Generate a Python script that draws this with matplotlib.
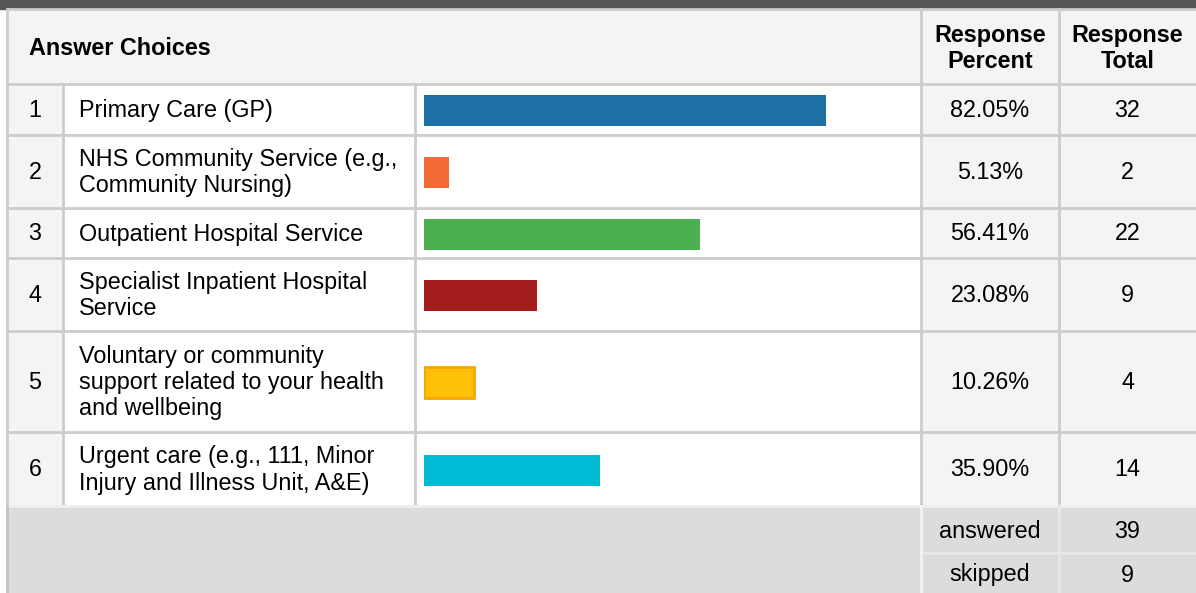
"""Survey results table: services used, with inline percent bars."""

import matplotlib.pyplot as plt
from matplotlib.patches import Rectangle

plt.rcParams['font.family'] = ['Liberation Sans', 'DejaVu Sans']

choices = [
    'Primary Care (GP)',
    'NHS Community Service (e.g.,\nCommunity Nursing)',
    'Outpatient Hospital Service',
    'Specialist Inpatient Hospital\nService',
    'Voluntary or community\nsupport related to your health\nand wellbeing',
    'Urgent care (e.g., 111, Minor\nInjury and Illness Unit, A&E)',
]
percents = [82.05, 5.13, 56.41, 23.08, 10.26, 35.90]
totals = [32, 2, 22, 9, 4, 14]
answered = 39
skipped = 9

bar_colors = ['#1e6fa5', '#f26b35', '#4caf50', '#a51c1f', '#ffc107', '#00bcd4']
bar_edges = ['none', 'none', 'none', 'none', '#f9a602', 'none']

W, H = 1196, 593
fig = plt.figure(figsize=(W / 100, H / 100), dpi=100)
ax = fig.add_axes([0, 0, 1, 1])
ax.set_xlim(0, W)
ax.set_ylim(H, 0)
ax.axis('off')

# layout in pixels
col_x = [7, 63, 415, 921, 1059, 1196]
row_y = [84, 135, 208, 258, 331, 432, 506]
head_top = 9
foot_y = [506, 553, 593]
light = '#f4f4f2'
line = '#cccccc'
fs = 16.8

ax.add_patch(Rectangle((0, 0), W, head_top, color='#555555', zorder=1))
ax.add_patch(Rectangle((col_x[0], head_top), W - col_x[0], row_y[0] - head_top, color=light, zorder=0))

for i in range(len(choices)):
    y0, y1 = row_y[i], row_y[i + 1]
    ax.add_patch(Rectangle((col_x[0], y0), col_x[1] - col_x[0], y1 - y0, color=light, zorder=0))
    ax.add_patch(Rectangle((col_x[3], y0), col_x[5] - col_x[3], y1 - y0, color=light, zorder=0))
    yc = (y0 + y1) / 2 + 1
    ax.text(35, yc, str(i + 1), ha='center', va='center', fontsize=fs)
    ax.text(79, yc, choices[i], ha='left', va='center', fontsize=fs, linespacing=1.17)
    ax.text((col_x[3] + col_x[4]) / 2, yc, f'{percents[i]:.2f}%', ha='center', va='center', fontsize=fs)
    ax.text((col_x[4] + col_x[5]) / 2, yc, str(totals[i]), ha='center', va='center', fontsize=fs)

# grid lines of the body
for y in [head_top] + row_y:
    ax.plot([col_x[0], W], [y, y], color=line, lw=2, zorder=2, solid_capstyle='butt')
ax.plot([col_x[0], col_x[0]], [head_top, H], color=line, lw=2, zorder=2)
for x in col_x[1:3]:
    ax.plot([x, x], [row_y[0], row_y[-1]], color=line, lw=2, zorder=2)
for x in col_x[3:5]:
    ax.plot([x, x], [head_top, row_y[-1]], color=line, lw=2, zorder=2)

# footer
foot = '#dcdcdc'
ax.add_patch(Rectangle((col_x[0], foot_y[0]), W - col_x[0], H - foot_y[0], color=foot, zorder=0))
ax.plot([col_x[0], W], [foot_y[0], foot_y[0]], color='#f0f0f0', lw=2, zorder=2)
ax.plot([col_x[3], W], [foot_y[1], foot_y[1]], color='#e8e8e8', lw=2, zorder=2)
ax.plot([col_x[3], col_x[3]], [foot_y[0], H], color='#f2f2f2', lw=2, zorder=2)
ax.plot([col_x[4], col_x[4]], [foot_y[0], H], color='#e8e8e8', lw=2, zorder=2)
ax.plot([col_x[0], col_x[0]], [foot_y[0], H], color='#c4c4c4', lw=2, zorder=2)
for k, (lab, val) in enumerate([('answered', answered), ('skipped', skipped)]):
    yc = (foot_y[k] + foot_y[k + 1]) / 2 + 2
    ax.text((col_x[3] + col_x[4]) / 2, yc, lab, ha='center', va='center', fontsize=fs)
    ax.text((col_x[4] + col_x[5]) / 2, yc, str(val), ha='center', va='center', fontsize=fs)

# headers
hy = (head_top + row_y[0]) / 2 + 2
ax.text(29, hy, 'Answer Choices', ha='left', va='center', fontsize=fs, fontweight='bold')
ax.text((col_x[3] + col_x[4]) / 2, hy, 'Response\nPercent', ha='center', va='center',
        fontsize=fs, fontweight='bold', linespacing=1.2)
ax.text((col_x[4] + col_x[5]) / 2, hy, 'Response\nTotal', ha='center', va='center',
        fontsize=fs, fontweight='bold', linespacing=1.2)

# bars: x axis runs 0..100 percent across the bar column
bx0, bx1 = 424, 914
bar_ax = fig.add_axes([bx0 / W, 0, (bx1 - bx0) / W, 1])
bar_ax.set_xlim(0, 100)
bar_ax.set_ylim(H, 0)
bar_ax.axis('off')
centers = [(row_y[i] + row_y[i + 1]) / 2 + 1 for i in range(len(percents))]
for c, p, col, ec in zip(centers, percents, bar_colors, bar_edges):
    bar_ax.barh(c, p, height=31, color=col, edgecolor=ec, linewidth=2 if ec != 'none' else 0)

fig.savefig('out.png', dpi=100)
